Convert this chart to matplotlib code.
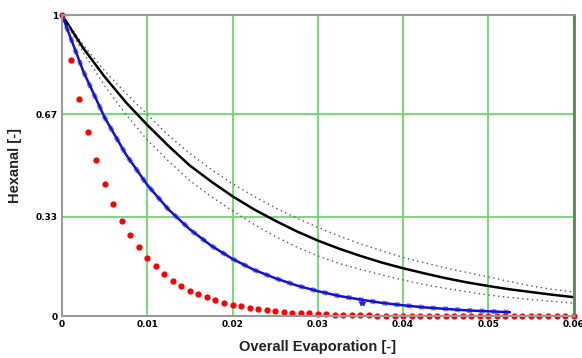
import matplotlib.pyplot as plt

# Data
x_dots = [i * 0.001 for i in range(61)]
red_dots = [1.0, 0.849, 0.720, 0.611, 0.519, 0.440, 0.374, 0.317, 0.269, 0.229,
            0.194, 0.165, 0.140, 0.118, 0.101, 0.085, 0.072, 0.062, 0.052, 0.044,
            0.038, 0.032, 0.027, 0.023, 0.020, 0.017, 0.014, 0.012, 0.010, 0.009,
            0.007, 0.006, 0.005, 0.004, 0.004, 0.003, 0.003, 0.002, 0.002, 0.002,
            0.001, 0.001, 0.001, 0.001, 0.001, 0.0, 0.0, 0.0, 0.0, 0.0,
            0.0, 0.0, 0.0, 0.0, 0.0, 0.0, 0.0, 0.0, 0.0, 0.0, 0.0]

x_line = [i * 0.0025 for i in range(25)]
black_mid = [1.0, 0.89, 0.795, 0.71, 0.635, 0.565, 0.50, 0.447, 0.398, 0.355,
             0.317, 0.282, 0.251, 0.224, 0.20, 0.178, 0.159, 0.142, 0.126, 0.112,
             0.10, 0.089, 0.080, 0.071, 0.063]
black_hi = [1.0, 0.90, 0.815, 0.74, 0.67, 0.60, 0.54, 0.487, 0.44, 0.398,
            0.36, 0.326, 0.295, 0.266, 0.24, 0.217, 0.195, 0.177, 0.16, 0.145,
            0.13, 0.115, 0.10, 0.089, 0.08]
black_lo = [1.0, 0.875, 0.765, 0.67, 0.585, 0.515, 0.45, 0.397, 0.35, 0.305,
            0.265, 0.23, 0.20, 0.175, 0.155, 0.137, 0.12, 0.105, 0.092, 0.081,
            0.07, 0.062, 0.055, 0.049, 0.043]

x_blue = [i * 0.0025 for i in range(22)]
blue = [1.0, 0.813, 0.66, 0.537, 0.436, 0.354, 0.288, 0.234, 0.19, 0.154,
        0.126, 0.102, 0.083, 0.067, 0.055, 0.044, 0.036, 0.029, 0.024, 0.019,
        0.016, 0.013]

x_ticks = [0, 0.01, 0.02, 0.03, 0.04, 0.05, 0.06]
x_labels = ['0', '0.01', '0.02', '0.03', '0.04', '0.05', '0.06']
y_ticks = [0, 0.33, 0.67, 1]
y_labels = ['0', '0.33', '0.67', '1']

fig = plt.figure(figsize=(5.82, 3.58), dpi=100)
ax = fig.add_axes([0.1065, 0.117, 0.879, 0.841])

ax.plot(x_line, black_hi, color='#555555', lw=1.0, ls=(0, (1, 2.5)))
ax.plot(x_line, black_lo, color='#555555', lw=1.0, ls=(0, (1, 2.5)))
ax.plot(x_line, black_mid, color='black', lw=1.8)
ax.plot(x_blue, blue, color='#8888cc', lw=3.5, ls=(0, (1, 1.5)))
ax.plot(x_blue, blue, color='#1010dd', lw=1.8)
ax.plot([0.0352], [0.043], marker='*', color='#2020dd', ms=4, ls='none')
ax.plot(x_dots, red_dots, 'o', color='#ff0000', ms=4.5, mec='none', clip_on=False)

ax.set_xlim(0, 0.06)
ax.set_ylim(0, 1)
ax.set_xticks(x_ticks)
ax.set_xticklabels(x_labels)
ax.set_yticks(y_ticks)
ax.set_yticklabels(y_labels)
ax.tick_params(length=0, labelsize=6.5, pad=3)
for lab in ax.get_xticklabels() + ax.get_yticklabels():
    lab.set_fontweight('bold')
    lab.set_family(['Liberation Sans Narrow', 'DejaVu Sans'])

ax.grid(True, color='#66dd66', lw=1.3)
ax.set_axisbelow(True)
for side in ['top', 'left', 'bottom']:
    ax.spines[side].set_color('#999999')
    ax.spines[side].set_linewidth(1.5)
ax.spines['right'].set_color('#558855')
ax.spines['right'].set_linewidth(2)

ax.set_xlabel('Overall Evaporation [-]', fontsize=10.5, fontweight='bold',
              family='Liberation Sans', color='#222222', labelpad=8)
ax.set_ylabel('Hexanal [-]', fontsize=10.5, fontweight='bold',
              family='Liberation Sans', color='#222222', labelpad=10)

fig.savefig('out.png', dpi=100)
